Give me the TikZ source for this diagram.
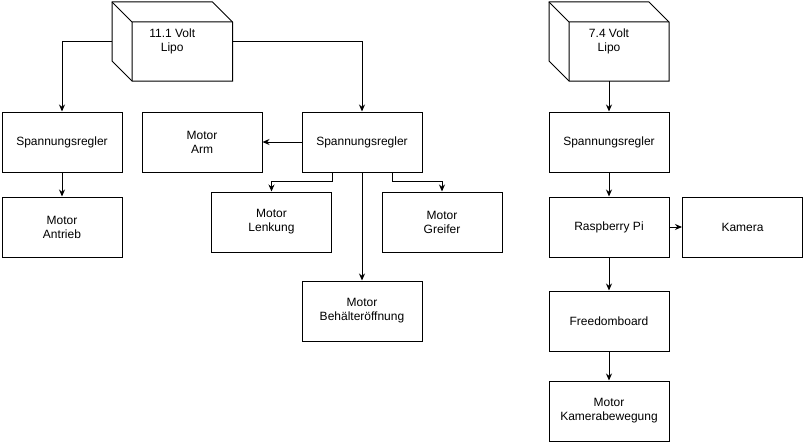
\documentclass[tikz,border=0pt]{standalone}
\usepackage{fontspec}
\setmainfont{Liberation Sans}
\usetikzlibrary{arrows.meta}
\begin{document}
\begin{tikzpicture}[x=1pt,y=-1pt,
  box/.style={draw,line width=1pt,minimum width=120pt,minimum height=60pt,inner sep=0pt,align=center,font=\fontsize{12}{14}\selectfont},
  cubetxt/.style={minimum width=120pt,minimum height=79pt,inner sep=0pt,align=center,font=\fontsize{12}{14}\selectfont},
  cubeline/.style={line width=1pt,line join=miter},
  arr/.style={line width=1pt,-{Stealth[length=7pt,width=6pt]}}]
\useasboundingbox (0,0) rectangle (805,444);
% cubes
\draw[cubeline] (112,2) -- (212.5,2) -- (232.5,22) -- (232.5,81) -- (132,81) -- (112,61) -- cycle;
\draw[cubeline] (112,2) -- (132,22) -- (232.5,22) (132,22) -- (132,81);
\node[cubetxt] (cubeA) at (172.25,41.5) {11.1 Volt\\Lipo};
\draw[cubeline] (549,2) -- (649,2) -- (669,22) -- (669,81) -- (569,81) -- (549,61) -- cycle;
\draw[cubeline] (549,2) -- (569,22) -- (669,22) (569,22) -- (569,81);
\node[cubetxt] (cubeB) at (609,41.5) {7.4 Volt\\Lipo};
% boxes
\node[box] (sr1) at (62,142) {Spannungsregler};
\node[box] (antrieb) at (62,227) {Motor\\Antrieb};
\node[box] (arm) at (202,142) {Motor\\Arm};
\node[box] (sr2) at (362,142) {Spannungsregler};
\node[box] (lenkung) at (271.5,222) {Motor\\Lenkung};
\node[box] (greifer) at (442,222) {Motor\\Greifer};
\node[box] (behaelter) at (362,311) {Motor\\Behälteröffnung};
\node[box] (sr3) at (609,142) {Spannungsregler};
\node[box] (raspi) at (609,227) {Raspberry Pi};
\node[box] (kamera) at (742.5,227) {Kamera};
\node[box] (freedom) at (609,321) {Freedomboard};
\node[box] (kamerabew) at (609,411) {Motor\\Kamerabewegung};
% connectors
\draw[arr] (cubeA.west) -| (sr1.north);
\draw[arr] (cubeA.east) -| (sr2.north);
\draw[arr] (sr1) -- (antrieb);
\draw[arr] (sr2) -- (arm);
\draw[arr] ([xshift=-30pt]sr2.south) -- ++(0,9) -| (lenkung.north);
\draw[arr] ([xshift=30pt]sr2.south) -- ++(0,9) -| (greifer.north);
\draw[arr] (sr2) -- (behaelter);
\draw[arr] (cubeB.south) -- (sr3.north);
\draw[arr] (sr3) -- (raspi);
\draw[arr] (raspi) -- (kamera);
\draw[arr] (raspi) -- (freedom);
\draw[arr] (freedom) -- (kamerabew);
\end{tikzpicture}
\end{document}
